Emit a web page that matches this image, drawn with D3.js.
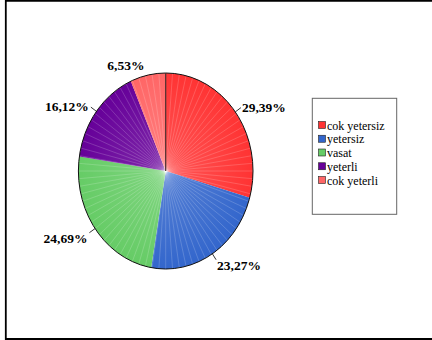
<!DOCTYPE html>
<html>
<head>
<meta charset="utf-8">
<script src="https://cdn.jsdelivr.net/npm/d3@7"></script>
<style>
  html, body { margin: 0; padding: 0; background: #fff; }
  svg { display: block; }
</style>
</head>
<body>
<svg id="chart" width="432" height="340"></svg>
<script>
const categories = ["cok yetersiz", "yetersiz", "vasat", "yeterli", "cok yeterli"];
const values = [29.39, 23.27, 24.69, 16.12, 6.53];
const labels = ["29,39%", "23,27%", "24,69%", "16,12%", "6,53%"];
const colors = ["#ff3333", "#3366cc", "#66cc66", "#660099", "#ff6666"];

const svg = d3.select("#chart");

// outer frame (open on the right)
svg.append("path")
  .attr("d", "M440,0.8 H5.8 V339 H440")
  .attr("fill", "none")
  .attr("stroke", "#000")
  .attr("stroke-width", 1.8);

const cx = 165.7, cy = 171, R = 98, sx = 87.3 / 98;
const data = categories.map((c, i) => ({ c, v: values[i], label: labels[i], color: colors[i] }));
const pie = d3.pie().value(d => d.v).sort(null);
const arcs = pie(data);
const arc = d3.arc().innerRadius(0).outerRadius(R);

const g = svg.append("g").attr("transform", `translate(${cx},${cy}) scale(${sx},1)`);

g.selectAll("path.slice")
  .data(arcs)
  .join("path")
  .attr("class", "slice")
  .attr("d", arc)
  .attr("fill", d => d.data.color);

// faint radial texture lines
const rad = d3.range(0, 360, 4.5);
g.selectAll("line.tex")
  .data(rad)
  .join("line")
  .attr("class", "tex")
  .attr("x1", 0).attr("y1", 0)
  .attr("x2", a => R * Math.sin(a * Math.PI / 180))
  .attr("y2", a => -R * Math.cos(a * Math.PI / 180))
  .attr("stroke", "#fff")
  .attr("stroke-opacity", 0.22)
  .attr("stroke-width", 0.8)
  .attr("vector-effect", "non-scaling-stroke");

// soft center highlight
const grad = svg.append("defs").append("radialGradient").attr("id", "hl");
grad.append("stop").attr("offset", "0%").attr("stop-color", "#fff").attr("stop-opacity", 0.18);
grad.append("stop").attr("offset", "100%").attr("stop-color", "#fff").attr("stop-opacity", 0);
g.append("circle").attr("r", R).attr("fill", "url(#hl)");

// outline
g.append("circle")
  .attr("r", R)
  .attr("fill", "none")
  .attr("stroke", "#111")
  .attr("stroke-width", 1)
  .attr("vector-effect", "non-scaling-stroke");
g.append("line")
  .attr("x1", 0).attr("y1", 0).attr("x2", 0).attr("y2", -R)
  .attr("stroke", "#4a2a2a")
  .attr("stroke-width", 1.2)
  .attr("vector-effect", "non-scaling-stroke");

// labels with leader lines
const lab = svg.append("g");
arcs.forEach(a => {
  const m = (a.startAngle + a.endAngle) / 2;
  const s = Math.sin(m), c = Math.cos(m);
  const x0 = cx + R * sx * s, y0 = cy - R * c;
  const x1 = cx + (R * sx + 7) * s, y1 = cy - (R + 7) * c;
  const right = s > 0;
  const small = a.data.v < 10;
  if (!small) {
    lab.append("line")
      .attr("x1", x0).attr("y1", y0).attr("x2", x1).attr("y2", y1)
      .attr("stroke", "#000").attr("stroke-width", 0.8);
  }
  const tx = right ? x1 + 1 : x1 - 2;
  const ty = small ? y1 + 2 : (c > 0 ? y1 + 4 : y1 + 10);
  lab.append("text")
    .attr("x", tx).attr("y", ty)
    .attr("text-anchor", right ? "start" : "end")
    .attr("font-family", "'Liberation Serif', 'Times New Roman', serif")
    .attr("font-weight", "bold")
    .attr("font-size", 13.5)
    .attr("fill", "#000")
    .text(a.data.label);
});

// legend
const lg = svg.append("g");
lg.append("rect")
  .attr("x", 312.3).attr("y", 98.3)
  .attr("width", 84.4).attr("height", 116)
  .attr("fill", "#fff")
  .attr("stroke", "#666")
  .attr("stroke-width", 1);
const ly = d3.scalePoint().domain(categories).range([125.5, 180.5]);
categories.forEach((c, i) => {
  lg.append("rect")
    .attr("x", 318.5).attr("y", ly(c) - 4)
    .attr("width", 7).attr("height", 7)
    .attr("fill", colors[i])
    .attr("stroke", "#222")
    .attr("stroke-width", 0.6);
  lg.append("text")
    .attr("x", 327).attr("y", ly(c) + 4)
    .attr("font-family", "'Liberation Serif', 'Times New Roman', serif")
    .attr("font-size", 12)
    .attr("textLength", c.length > 0 ? null : null)
    .attr("fill", "#000")
    .text(c);
});
</script>
</body>
</html>
